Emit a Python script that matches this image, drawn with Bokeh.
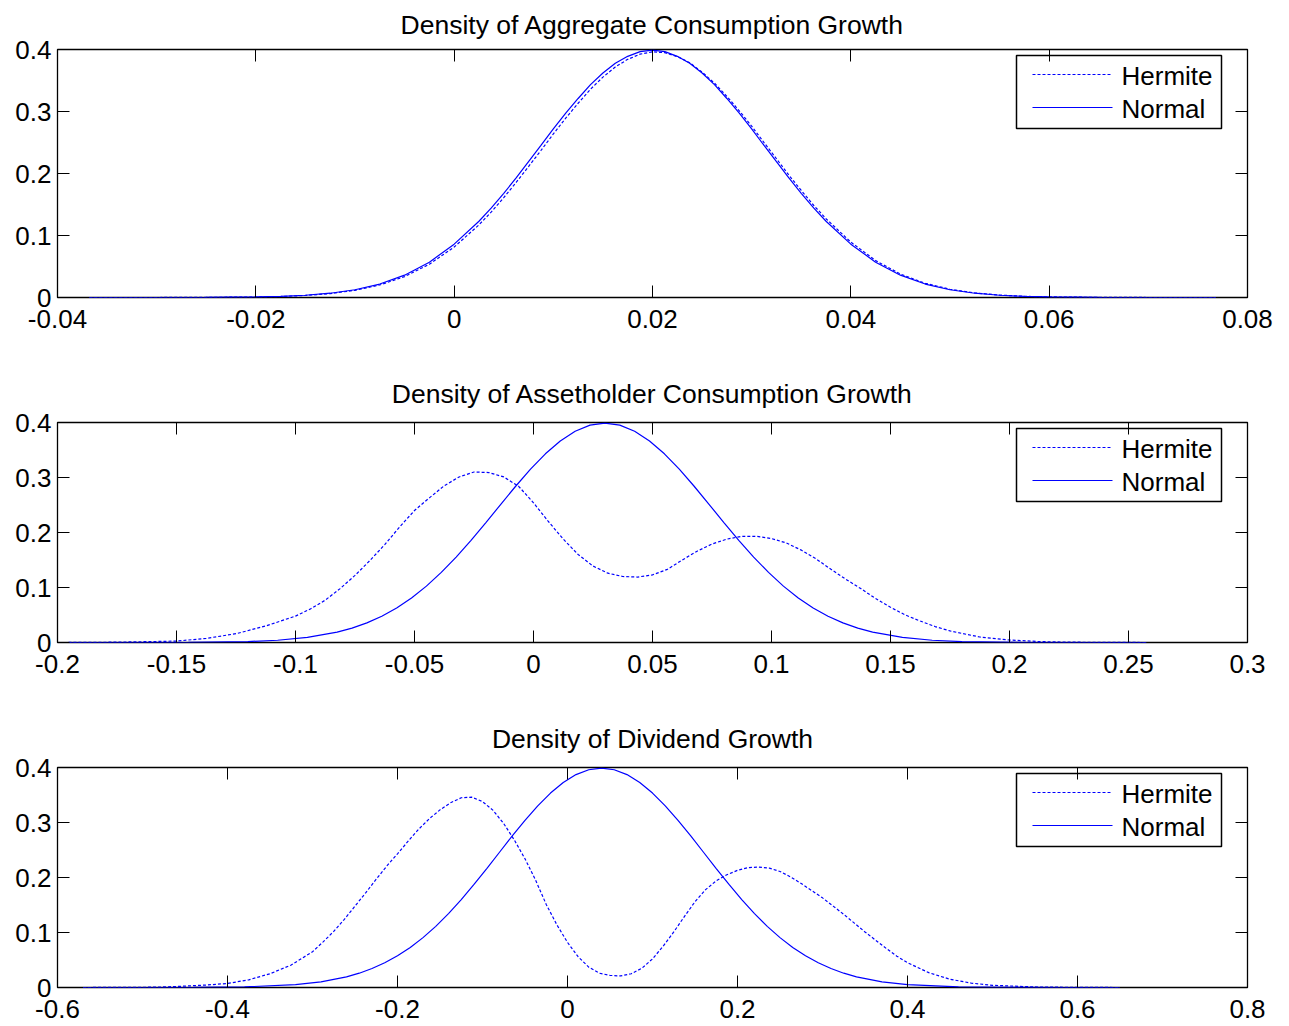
from bokeh.plotting import figure
from bokeh.models import Range1d, FixedTicker, LinearAxis
from bokeh.core.properties import value
from bokeh.layouts import column
from bokeh.embed import file_html
from bokeh.resources import INLINE

# ---------------- data ----------------
titles = ["Density of Aggregate Consumption Growth",
          "Density of Assetholder Consumption Growth",
          "Density of Dividend Growth"]
series_names = ["Hermite", "Normal"]

y_ticks = [0, 0.1, 0.2, 0.3, 0.4]
y_tick_labels = ["0", "0.1", "0.2", "0.3", "0.4"]

# Panel 1: aggregate consumption growth
agg_xrange = [-0.04, 0.08]
agg_ticks = [-0.04, -0.02, 0, 0.02, 0.04, 0.06, 0.08]
agg_tick_labels = ["-0.04", "-0.02", "0", "0.02", "0.04", "0.06", "0.08"]
agg_x = [-0.0368, -0.03, -0.025, -0.02, -0.0175, -0.015, -0.0125, -0.01, -0.0075, -0.005,
         -0.0025, 0.0,
         0.0025, 0.00375, 0.005, 0.00625, 0.0075, 0.00875, 0.01, 0.01125, 0.0125, 0.01375,
         0.015, 0.01625, 0.0175, 0.01875, 0.02, 0.02125, 0.0225, 0.02375, 0.025, 0.02625,
         0.0275, 0.02875, 0.03, 0.03125, 0.0325, 0.03375, 0.035, 0.03625, 0.0375,
         0.04, 0.0425, 0.045, 0.0475, 0.05, 0.0525, 0.055, 0.0575, 0.06,
         0.065, 0.07, 0.0768]
agg_normal = [0.0, 0.00003, 0.0002, 0.0009, 0.0018, 0.0036, 0.0069, 0.0125, 0.0217, 0.036,
              0.057, 0.086,
              0.123, 0.1445, 0.168, 0.1928, 0.219, 0.2452, 0.272, 0.2972, 0.321, 0.3433,
              0.362, 0.3779, 0.389, 0.3965, 0.399, 0.3965, 0.389, 0.3779, 0.362, 0.3433,
              0.321, 0.2972, 0.272, 0.2452, 0.219, 0.1928, 0.168, 0.1445, 0.123,
              0.086, 0.057, 0.036, 0.0217, 0.0125, 0.0069, 0.0036, 0.0018, 0.0009,
              0.0002, 0.00003, 0.0]
agg_hermite = [0.0, 0.00003, 0.0002, 0.0008, 0.0016, 0.0033, 0.0063, 0.0116, 0.0202, 0.0337,
               0.0537, 0.0814,
               0.1172, 0.1381, 0.1611, 0.1855, 0.2112, 0.2371, 0.2638, 0.2892, 0.3133, 0.3361,
               0.3554, 0.3719, 0.3841, 0.3925, 0.3962, 0.3949, 0.3886, 0.3787, 0.3636, 0.3457,
               0.3243, 0.3011, 0.2763, 0.2499, 0.2238, 0.1974, 0.1726, 0.1488, 0.1271,
               0.0893, 0.0595, 0.0378, 0.0229, 0.0133, 0.0074, 0.0039, 0.0019, 0.0010,
               0.0002, 0.00003, 0.0]

# Panel 2: assetholder consumption growth
ah_xrange = [-0.2, 0.3]
ah_ticks = [-0.2, -0.15, -0.1, -0.05, 0, 0.05, 0.1, 0.15, 0.2, 0.25, 0.3]
ah_tick_labels = ["-0.2", "-0.15", "-0.1", "-0.05", "0", "0.05", "0.1", "0.15", "0.2", "0.25", "0.3"]
ah_x_normal = [-0.1975, -0.17, -0.145, -0.12, -0.1075, -0.095, -0.0825,
               -0.07625, -0.07, -0.06375, -0.0575, -0.05125, -0.045, -0.03875, -0.0325,
               -0.02625, -0.02, -0.01375, -0.0075, -0.00125, 0.005, 0.01125, 0.0175,
               0.02375, 0.03,
               0.03625, 0.0425, 0.04875, 0.055, 0.06125, 0.0675, 0.07375, 0.08, 0.08625,
               0.0925, 0.09875, 0.105, 0.11125, 0.1175, 0.12375, 0.13, 0.13625,
               0.1425, 0.155, 0.1675, 0.18, 0.205, 0.23, 0.2575]
ah_normal = [0.0, 0.00003, 0.00025, 0.0017, 0.0041, 0.0092, 0.0188,
             0.0261, 0.0356, 0.0478, 0.0628, 0.0810, 0.1025, 0.1274, 0.1553,
             0.1858, 0.2181, 0.2512, 0.2841, 0.3151, 0.3431, 0.3665, 0.3842,
             0.3952, 0.399,
             0.3952, 0.3842, 0.3665, 0.3431, 0.3151, 0.2841, 0.2512, 0.2181, 0.1858,
             0.1553, 0.1274, 0.1025, 0.0810, 0.0628, 0.0478, 0.0356, 0.0261,
             0.0188, 0.0092, 0.0041, 0.0017, 0.00025, 0.00003, 0.0]
ah_x_hermite = [-0.1975, -0.175, -0.15, -0.1375, -0.125, -0.1125, -0.1, -0.09375, -0.0875,
                -0.08125, -0.075, -0.06875, -0.0625, -0.05625,
                -0.05, -0.04375, -0.0375, -0.03125, -0.025, -0.01875, -0.0125, -0.00625,
                0.0, 0.00625, 0.0125, 0.01875, 0.025, 0.03125, 0.0375, 0.04375, 0.05,
                0.05625, 0.0625, 0.06875, 0.075, 0.08125, 0.0875, 0.09375, 0.1, 0.10625,
                0.1125, 0.11875, 0.125,
                0.13125, 0.1375, 0.14375, 0.15, 0.15625, 0.1625, 0.16875, 0.175, 0.1875,
                0.2, 0.2125, 0.225, 0.2575]
ah_hermite = [0.0, 0.0006, 0.0025, 0.0075, 0.016, 0.030, 0.048, 0.061, 0.077,
              0.098, 0.122, 0.149, 0.178, 0.210,
              0.240, 0.263, 0.285, 0.301, 0.310, 0.309, 0.301, 0.284,
              0.254, 0.220, 0.188, 0.160, 0.139, 0.126, 0.120, 0.119, 0.123,
              0.133, 0.150, 0.166, 0.179, 0.188, 0.193, 0.193, 0.189, 0.181,
              0.168, 0.152, 0.133,
              0.115, 0.098, 0.080, 0.064, 0.050, 0.039, 0.029, 0.021, 0.010,
              0.0045, 0.0017, 0.0006, 0.0]

# Panel 3: dividend growth
dv_xrange = [-0.6, 0.8]
dv_ticks = [-0.6, -0.4, -0.2, 0, 0.2, 0.4, 0.6, 0.8]
dv_tick_labels = ["-0.6", "-0.4", "-0.2", "0", "0.2", "0.4", "0.6", "0.8"]
dv_x_normal = [-0.57, -0.5, -0.44, -0.38, -0.32, -0.29,
               -0.26, -0.245, -0.23, -0.215, -0.2, -0.185, -0.17, -0.155, -0.14, -0.125,
               -0.11, -0.095, -0.08, -0.065, -0.05, -0.035, -0.02, -0.005, 0.01, 0.025,
               0.04, 0.055, 0.07, 0.085, 0.1, 0.115, 0.13, 0.145, 0.16, 0.175, 0.19,
               0.205, 0.22, 0.235, 0.25, 0.265, 0.28, 0.295, 0.31, 0.325, 0.34,
               0.37, 0.4, 0.46, 0.52, 0.58, 0.65]
dv_normal = [0.0, 0.00002, 0.00017, 0.0011, 0.0051, 0.0103,
             0.0194, 0.0260, 0.0345, 0.0449, 0.0576, 0.0729, 0.0907, 0.1112, 0.1344, 0.1599,
             0.1873, 0.2163, 0.2459, 0.2755, 0.3039, 0.3302, 0.3535, 0.3727, 0.3871, 0.3959,
             0.399, 0.3959, 0.3871, 0.3727, 0.3535, 0.3302, 0.3039, 0.2755, 0.2459, 0.2163,
             0.1873, 0.1599, 0.1344, 0.1112, 0.0907, 0.0729, 0.0576, 0.0449, 0.0345, 0.0260,
             0.0194, 0.0103, 0.0051, 0.0011, 0.00017, 0.00002, 0.0]
dv_x_hermite = [-0.57, -0.525, -0.5, -0.475, -0.45, -0.425, -0.4, -0.375, -0.35, -0.325,
                -0.3, -0.2875, -0.275, -0.2625, -0.25, -0.2375, -0.225, -0.2125, -0.2,
                -0.1875, -0.175, -0.1625, -0.15, -0.1375, -0.125, -0.1125, -0.1, -0.0875,
                -0.075, -0.0625, -0.05, -0.0375, -0.025, -0.0125, 0.0,
                0.0125, 0.025, 0.0375, 0.05, 0.0625, 0.075, 0.0875, 0.1, 0.1125, 0.125,
                0.1375, 0.15, 0.1625, 0.175, 0.1875, 0.2, 0.2125, 0.225, 0.2375, 0.25,
                0.2625, 0.275, 0.2875, 0.3, 0.3125, 0.325, 0.3375, 0.35, 0.3625, 0.375,
                0.3875, 0.4,
                0.425, 0.45, 0.475, 0.5, 0.55, 0.6, 0.65]
dv_hermite = [0.0, 0.0002, 0.0004, 0.001, 0.0025, 0.0045, 0.0073, 0.014, 0.025, 0.041,
              0.065, 0.083, 0.102, 0.124, 0.148, 0.172, 0.197, 0.221, 0.243,
              0.266, 0.288, 0.307, 0.323, 0.336, 0.345, 0.346, 0.338, 0.322,
              0.298, 0.268, 0.234, 0.195, 0.151, 0.114, 0.082,
              0.056, 0.037, 0.026, 0.022, 0.021, 0.025, 0.035, 0.052, 0.075, 0.101,
              0.129, 0.156, 0.178, 0.194, 0.205, 0.213, 0.218, 0.219, 0.217, 0.211,
              0.201, 0.189, 0.176, 0.163, 0.148, 0.133, 0.117, 0.101, 0.086, 0.071,
              0.057, 0.045,
              0.027, 0.015, 0.008, 0.004, 0.001, 0.0002, 0.0]

# ---------------- styling ----------------
FONT = "Liberation Sans"
FS = "26px"
TITLE_FS = "26.5px"
BLUE = "#0000ff"
PAGE_W = 1273
FRAME_W = 1190
DASH = "3 2"
# legend box geometry, in pixels measured from the frame's top-left corner
LEG_BOX = (959, 1164, 6, 79)       # left, right, top, bottom
LEG_LINE_X = (975, 1015, 1055)
LEG_ROW_Y = (25, 58)
LEG_TEXT_X = 1064
LEG_TEXT_DY = 1.6


def style_axis(ax, ticks, labels, show_labels=True):
    ax.ticker = FixedTicker(ticks=ticks)
    ax.axis_line_color = None
    ax.major_tick_in = 12
    ax.major_tick_out = 0
    ax.major_tick_line_color = "black"
    ax.major_tick_line_width = 1
    ax.minor_tick_line_color = None
    ax.major_label_text_font = FONT
    if show_labels:
        ax.major_label_overrides = {t: l for t, l in zip(ticks, labels)}
        ax.major_label_text_font_size = FS
        ax.major_label_text_color = "black"
    else:
        ax.major_label_overrides = {t: "" for t in ticks}
        ax.major_label_text_font_size = "1px"
        ax.major_label_text_color = None
        ax.major_label_standoff = 0


def make_panel(title, xr, xticks, xlabels, xn, yn, xh, yh,
               height, top, bottom, title_standoff, title_valign):
    p = figure(width=PAGE_W, height=height,
               x_range=Range1d(xr[0], xr[1]), y_range=Range1d(0, 0.4),
               output_backend="svg", toolbar_location=None,
               min_border_left=57, min_border_right=26,
               min_border_top=top, min_border_bottom=bottom)
    p.grid.visible = False
    p.outline_line_color = "black"
    p.outline_line_width = 1.3
    p.background_fill_color = "white"
    p.border_fill_color = "white"

    style_axis(p.xaxis[0], xticks, xlabels)
    p.xaxis[0].major_label_standoff = 12
    style_axis(p.yaxis[0], y_ticks, y_tick_labels)
    p.yaxis[0].major_label_standoff = 6

    top_ax = LinearAxis()
    style_axis(top_ax, xticks, xlabels, show_labels=False)
    p.add_layout(top_ax, "above")
    right_ax = LinearAxis()
    style_axis(right_ax, y_ticks, y_tick_labels, show_labels=False)
    p.add_layout(right_ax, "right")

    p.title.text = title
    p.title.text_font = FONT
    p.title.text_font_size = TITLE_FS
    p.title.text_font_style = "normal"
    p.title.text_color = "black"
    p.title.align = "center"
    p.title.standoff = title_standoff
    p.title.vertical_align = title_valign

    frame_h = height - top - bottom

    def fx(px):
        return xr[0] + px / FRAME_W * (xr[1] - xr[0])

    def fy(py):
        return 0.4 - py / frame_h * 0.4

    # legend: white box with black border, labels and line samples
    l, r, t, b = LEG_BOX
    p.quad(left=[fx(l)], right=[fx(r)], top=[fy(t)], bottom=[fy(b)],
           fill_color="white", line_color="black", line_width=1.5)
    p.text(x=[fx(LEG_TEXT_X), fx(LEG_TEXT_X)],
           y=[fy(LEG_ROW_Y[0] + LEG_TEXT_DY), fy(LEG_ROW_Y[1] + LEG_TEXT_DY)],
           text=series_names,
           text_font=value(FONT), text_font_size=value(FS), text_color="black",
           text_align="left", text_baseline="middle")
    for row, dash in zip(LEG_ROW_Y, [DASH, "solid"]):
        p.line([fx(v) for v in LEG_LINE_X], [fy(row), fy(row + 0.02), fy(row)],
               line_color=BLUE, line_width=1.2, line_dash=dash)

    # the two density curves
    p.line(xh, yh, line_color=BLUE, line_width=1.2, line_dash=DASH)
    p.line(xn, yn, line_color=BLUE, line_width=1.2)
    return p


p1 = make_panel(titles[0], agg_xrange, agg_ticks, agg_tick_labels,
                agg_x, agg_normal, agg_x, agg_hermite, 345, 49, 48, 16, "top")
p2 = make_panel(titles[1], ah_xrange, ah_ticks, ah_tick_labels,
                ah_x_normal, ah_normal, ah_x_hermite, ah_hermite, 345, 77, 48, 27, "bottom")
p3 = make_panel(titles[2], dv_xrange, dv_ticks, dv_tick_labels,
                dv_x_normal, dv_normal, dv_x_hermite, dv_hermite, 335, 77, 38, 27, "bottom")

layout = column(p1, p2, p3, spacing=0)
open("out.html", "w").write(file_html(layout, INLINE))
